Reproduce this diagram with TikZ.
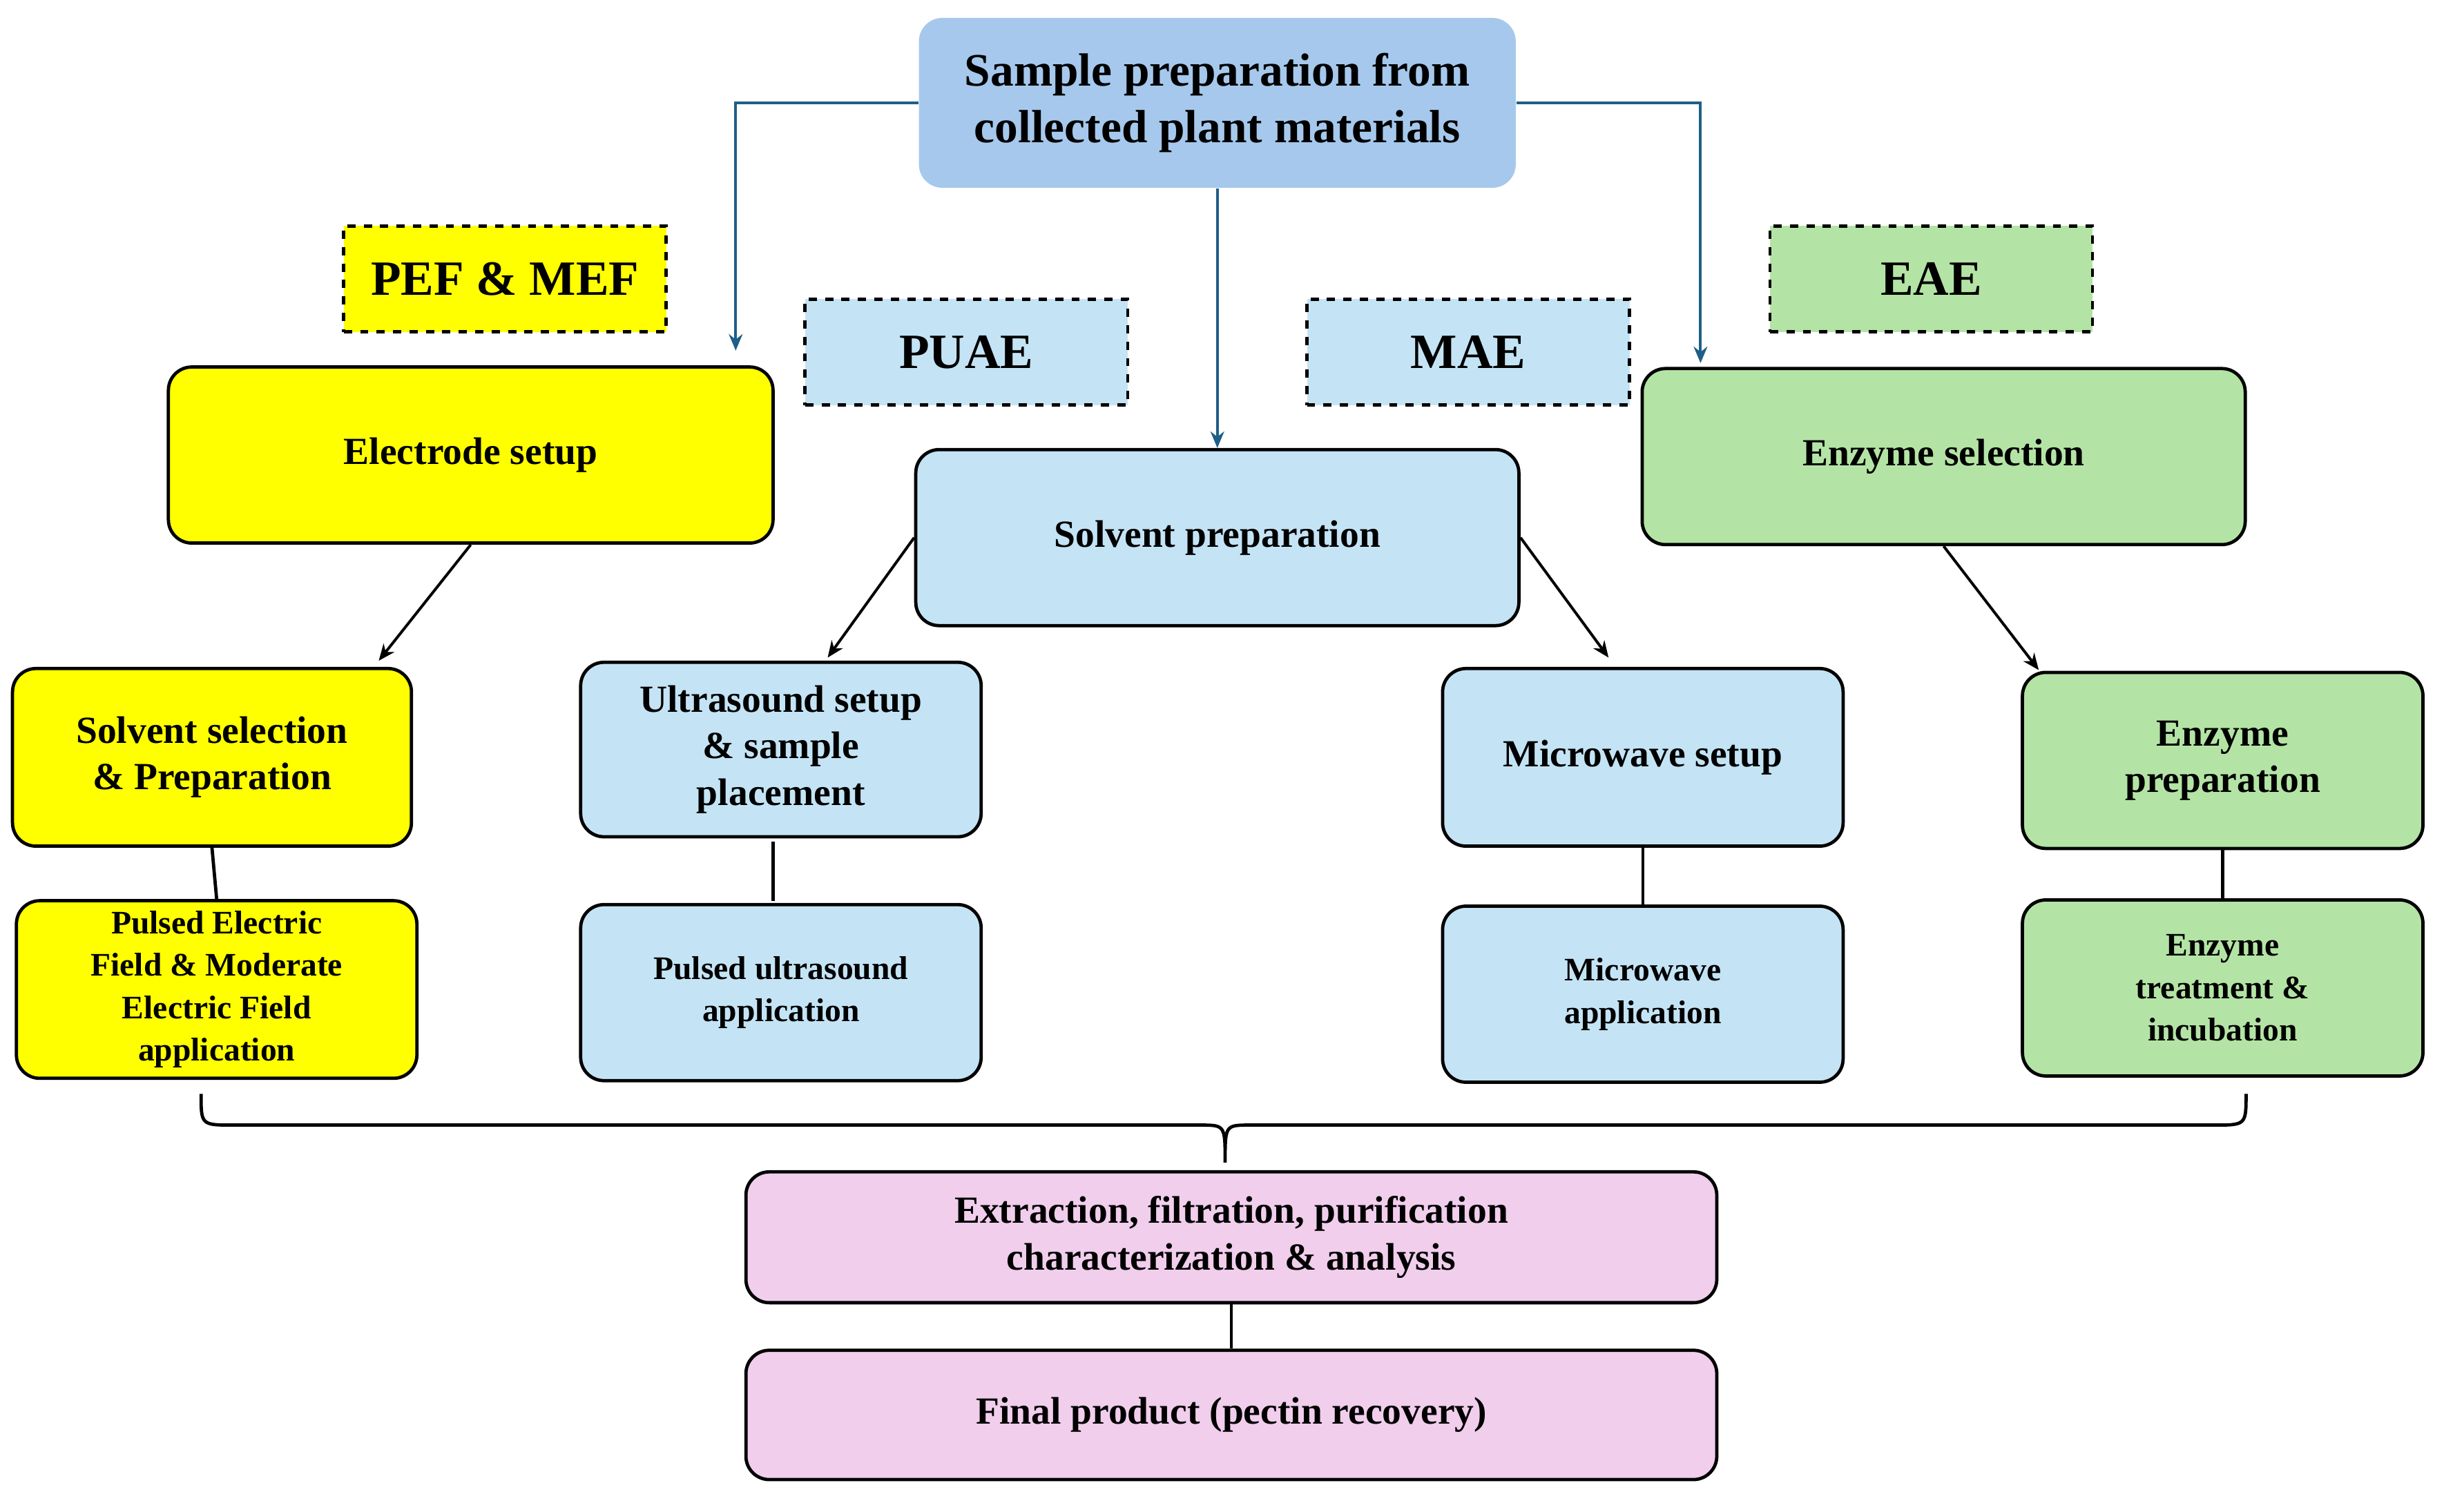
\documentclass[tikz,border=0pt]{standalone}
\usepackage{fontspec}
\setmainfont{Liberation Serif}
\usetikzlibrary{arrows.meta}
\definecolor{topb}{RGB}{166,200,236}
\definecolor{lb}{RGB}{196,228,245}
\definecolor{yl}{RGB}{255,255,0}
\definecolor{gr}{RGB}{180,228,165}
\definecolor{pk}{RGB}{240,206,236}
\definecolor{ln}{RGB}{30,95,135}
\begin{document}
\begin{tikzpicture}[x=0.02cm,y=-0.02cm,
 box/.style={draw=black,line width=1.2pt,rounded corners=0.3cm,align=center,font=\bfseries\fontsize{14}{17}\selectfont,inner sep=2pt},
 sbox/.style={box,font=\bfseries\fontsize{12}{15.5}\selectfont},
 tag/.style={draw=black,dashed,line width=1.2pt,font=\bfseries\fontsize{18}{20}\selectfont,minimum width=4.14cm,minimum height=1.36cm},
 arr/.style={-{Stealth[length=6pt,width=5pt]},line width=1pt},
 barr/.style={-{Stealth[length=6pt,width=5pt]},line width=1pt,draw=ln},
 ln/.style={line width=1.2pt}]
\useasboundingbox (0,0) rectangle (1568,970);
\node[fill=topb,rounded corners=0.3cm,minimum width=7.66cm,minimum height=2.18cm,align=center,font=\bfseries\fontsize{17}{20.5}\selectfont] (top) at (781,66) {Sample preparation from\\collected plant materials};
\node[tag,fill=yl] (pef) at (324,179) {PEF \& MEF};
\node[tag,fill=lb] (puae) at (620,226) {PUAE};
\node[tag,fill=lb] (mae) at (942,226) {MAE};
\node[tag,fill=gr] (eae) at (1239,179) {EAE};
\node[box,fill=yl,minimum width=7.76cm,minimum height=2.26cm] (el) at (302,292) {Electrode setup};
\node[box,fill=lb,minimum width=7.74cm,minimum height=2.26cm] (sp) at (781,345) {Solvent preparation};
\node[box,fill=gr,minimum width=7.74cm,minimum height=2.26cm] (es) at (1247,293) {Enzyme selection};
\node[box,fill=yl,minimum width=5.12cm,minimum height=2.28cm] (ss) at (136,486) {Solvent selection\\\& Preparation};
\node[box,fill=lb,minimum width=5.14cm,minimum height=2.24cm] (us) at (501,481) {Ultrasound setup\\\& sample\\placement};
\node[box,fill=lb,minimum width=5.14cm,minimum height=2.28cm] (ms) at (1054,486) {Microwave setup};
\node[box,fill=gr,minimum width=5.14cm,minimum height=2.26cm] (ep) at (1426,488) {Enzyme\\preparation};
\node[sbox,fill=yl,minimum width=5.14cm,minimum height=2.28cm] (pe) at (139,635) {Pulsed Electric\\Field \& Moderate\\Electric Field\\application};
\node[sbox,fill=lb,minimum width=5.14cm,minimum height=2.26cm] (pu) at (501,637) {Pulsed ultrasound\\application};
\node[sbox,fill=lb,minimum width=5.14cm,minimum height=2.26cm] (ma) at (1054,638) {Microwave\\application};
\node[sbox,fill=gr,minimum width=5.14cm,minimum height=2.26cm] (et) at (1426,634) {Enzyme\\treatment \&\\incubation};
\node[box,fill=pk,minimum width=12.46cm,minimum height=1.68cm] (ex) at (790,794) {Extraction, filtration, purification\\characterization \& analysis};
\node[box,fill=pk,minimum width=12.46cm,minimum height=1.66cm] (fp) at (790,908) {Final product (pectin recovery)};
\draw[barr] (top.west) -| (472,225);
\draw[barr] (top.east) -| (1091,233);
\draw[barr] (top.south) -- (sp.north);
\draw[arr] (el.south) -- (243,424);
\draw[arr] (sp.west) -- (531,422);
\draw[arr] (sp.east) -- (1032,422);
\draw[arr] (es.south) -- (1308,430);
\draw[ln] (ss.south) -- (pe.north);
\draw[ln] (496,540) -- (496,578);
\draw[ln] (ms.south) -- (ma.north);
\draw[ln] (ep.south) -- (et.north);
\draw[ln] (ex.south) -- (fp.north);
\coordinate (bl) at (129,702); \coordinate (br) at (1441,702); \coordinate (bm) at (786,746);
\draw[ln] (bl) .. controls (129,722) .. (150,722) -- (770,722) .. controls (786,722) .. (bm) .. controls (786,722) .. (802,722) -- (1420,722) .. controls (1441,722) .. (br);
\end{tikzpicture}
\end{document}
